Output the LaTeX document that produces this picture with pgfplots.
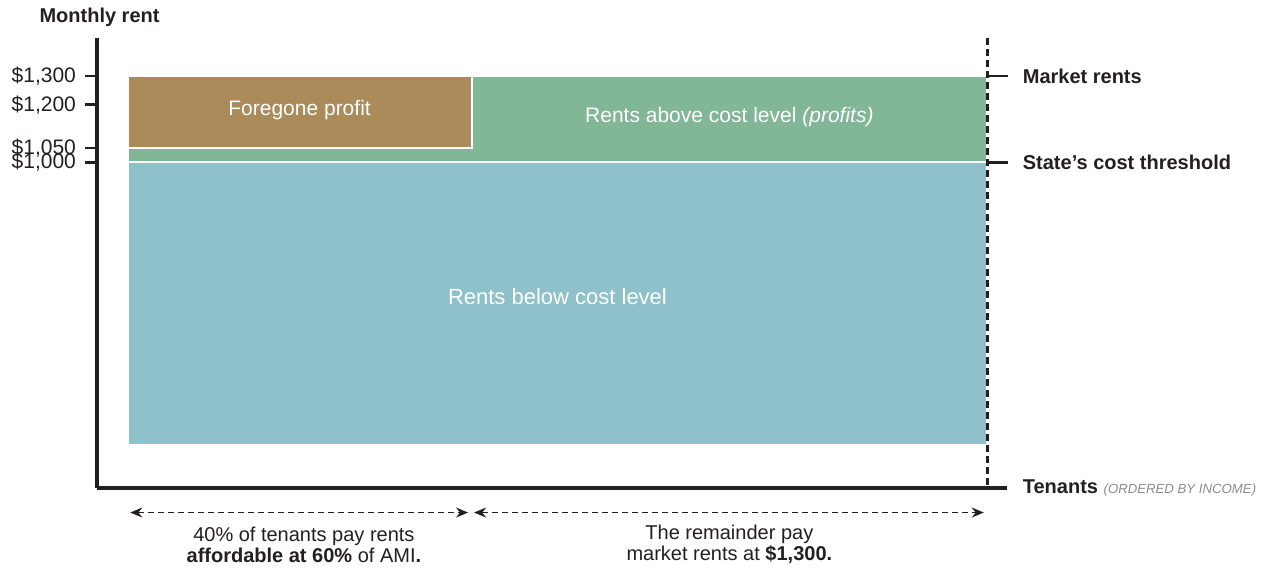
\documentclass[border=0pt]{standalone}
\usepackage{fontspec}
\setmainfont{Liberation Sans}
\usepackage{pgfplots}
\pgfplotsset{compat=1.18}
\usetikzlibrary{arrows.meta}

\definecolor{profitbrown}{HTML}{AB8B5A}
\definecolor{abovegreen}{HTML}{81B697}
\definecolor{belowblue}{HTML}{8FC1CB}
\definecolor{ink}{HTML}{231F20}
\definecolor{softgray}{HTML}{8C8C8C}

\begin{document}
\begin{tikzpicture}
% page = 1265 x 569 px at 0.5pt per px, axis box corner at px (97,488)
\useasboundingbox (-48.5pt,-40.5pt) rectangle (584pt,244pt);
\begin{axis}[
    scale only axis,
    width=455pt, height=225pt,
    xmin=-3.57, xmax=102.3,
    ymin=-132.7, ymax=1432,
    axis x line*=bottom, axis y line*=left,
    axis line style={line width=1.6pt, ink},
    xtick=\empty,
    ytick={1000,1050,1200,1300},
    yticklabels={{\$1,000},{\$1,050},{\$1,200},{\$1,300}},
    tick align=outside,
    major tick length=6pt,
    ytick style={line width=1.3pt, ink},
    yticklabel style={font=\fontsize{10.5}{12}\selectfont, text=ink, xshift=-1pt},
    clip=false,
  ]
  % areas
  \addplot[fill=belowblue, draw=white, line width=1pt] coordinates {
    (0,18) (0,1000) (100,1000) (100,18)} -- cycle;
  \addplot[fill=abovegreen, draw=white, line width=1pt] coordinates {
    (0,1000) (0,1300) (100,1300) (100,1000)} -- cycle;
  \addplot[fill=profitbrown, draw=white, line width=1pt] coordinates {
    (0,1050) (0,1300) (40,1300) (40,1050)} -- cycle;

  % labels inside the areas
  \node[text=white, font=\fontsize{10.5}{12}\selectfont] at (axis cs:20,1183) {Foregone profit};
  \node[text=white, font=\fontsize{10.5}{12}\selectfont] at (axis cs:70,1157) {Rents above cost level \textit{(profits)}};
  \node[text=white, font=\fontsize{11}{13}\selectfont] at (axis cs:50,532) {Rents below cost level};

  % right-hand markers
  \draw[ink, line width=1.6pt, dash pattern=on 3.5pt off 2pt] (axis cs:100,1432) -- (axis cs:100,-132.7);
  \draw[ink, line width=1.3pt] (axis cs:100,1300) -- (axis cs:102.45,1300);
  \draw[ink, line width=1.3pt] (axis cs:100,1000) -- (axis cs:102.45,1000);
  \node[anchor=west, inner sep=0pt, text=ink, font=\bfseries\fontsize{10}{12}\selectfont] at (axis cs:104.1,1300) {Market rents};
  \node[anchor=west, inner sep=0pt, text=ink, font=\bfseries\fontsize{10}{12}\selectfont] at (axis cs:104.1,1000) {State’s cost threshold};
  \node[anchor=west, inner sep=0pt, text=ink, font=\bfseries\fontsize{10}{12}\selectfont] at (axis cs:104.1,-132.7)
    {Tenants \textcolor{softgray}{\mdseries\itshape\fontsize{6.6}{8}\selectfont (ORDERED BY INCOME)}};

  % axis title
  \node[anchor=west, inner sep=0pt, text=ink, font=\bfseries\fontsize{10}{12}\selectfont] at (axis cs:-10.3,1504) {Monthly rent};

  % bottom brackets
  \draw[ink, line width=0.8pt, dash pattern=on 3pt off 2pt, {Stealth[length=6pt,width=5pt]}-{Stealth[length=6pt,width=5pt]}]
    (axis cs:0.3,-218) -- (axis cs:39.6,-218);
  \draw[ink, line width=0.8pt, dash pattern=on 3pt off 2pt, {Stealth[length=6pt,width=5pt]}-{Stealth[length=6pt,width=5pt]}]
    (axis cs:40.3,-218) -- (axis cs:99.6,-218);
  \node[align=center, text=ink, font=\fontsize{10}{10.5}\selectfont] at (axis cs:20.5,-330)
    {40\% of tenants pay rents\\\textbf{affordable at 60\%} of AMI\textbf{.}};
  \node[align=center, text=ink, font=\fontsize{10}{10.5}\selectfont] at (axis cs:70,-330)
    {The remainder pay\\market rents at \textbf{\$1,300.}};
\end{axis}
\end{tikzpicture}
\end{document}
